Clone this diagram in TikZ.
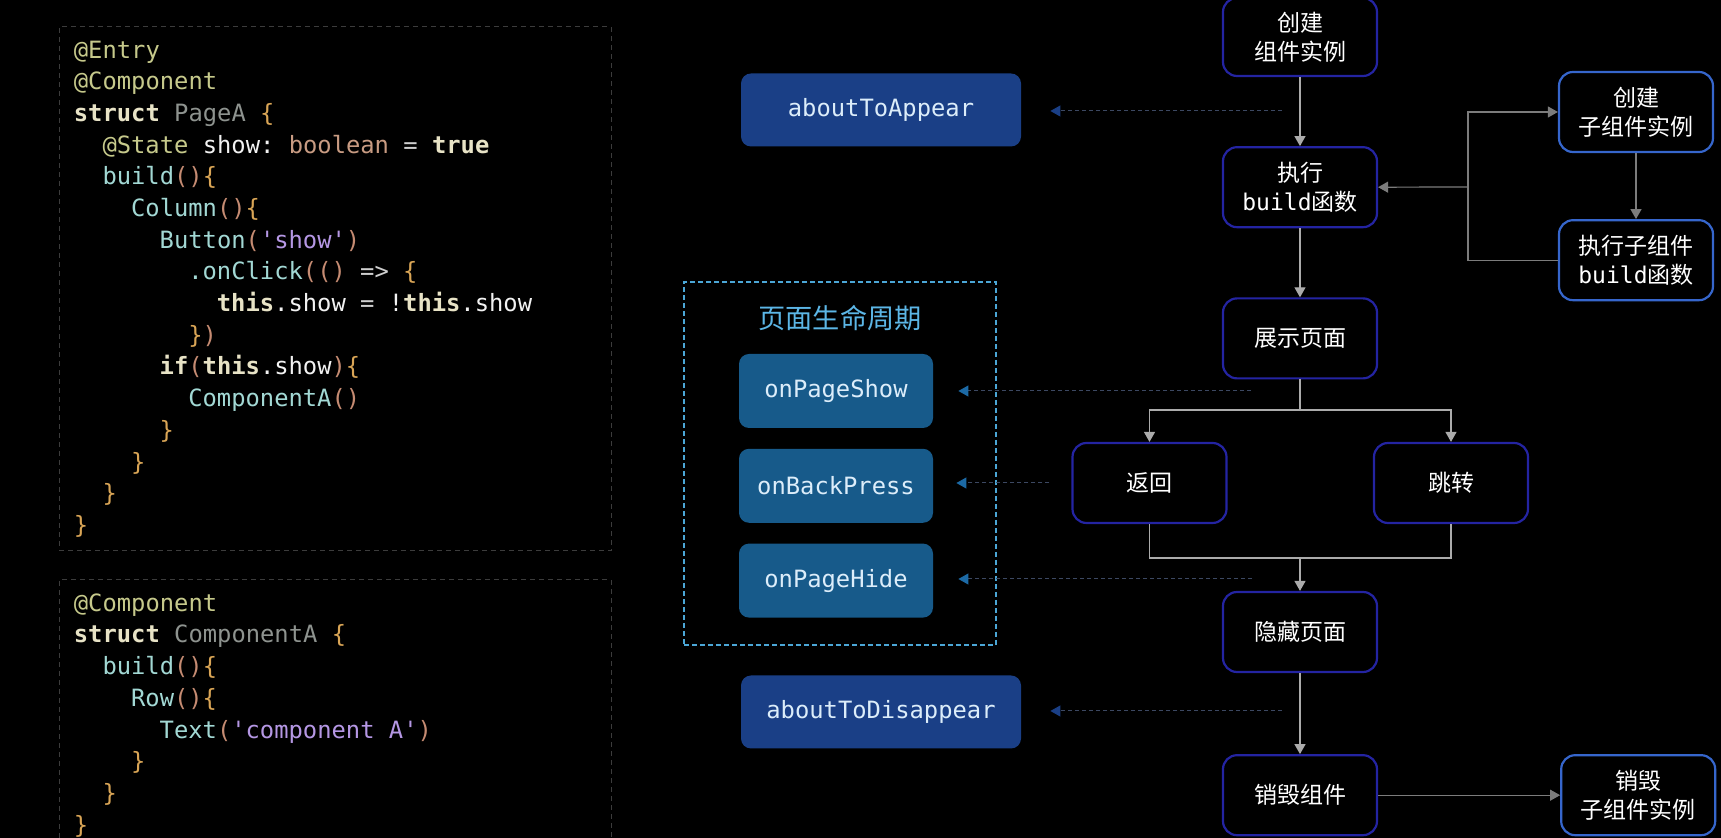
\documentclass[tikz,border=0pt]{standalone}
\usepackage{fontspec}
\setmonofont{DejaVu Sans Mono}
\newfontfamily\cjk{Noto Sans CJK SC}
\usepackage{xcolor}
\usetikzlibrary{arrows.meta, positioning}
\definecolor{decocol}{HTML}{C6C98B}
\definecolor{kwcol}{HTML}{E8E3C6}
\definecolor{clscol}{HTML}{8E938F}
\definecolor{fncol}{HTML}{A2D8D4}
\definecolor{prncol}{HTML}{C58B72}
\definecolor{brccol}{HTML}{D9A556}
\definecolor{strcol}{HTML}{B597E4}
\definecolor{typcol}{HTML}{C89B82}
\definecolor{idncol}{HTML}{F2F2F2}
\definecolor{oprcol}{HTML}{CFCFCF}
\definecolor{codeedge}{HTML}{3C3C3C}
\definecolor{flowedge}{HTML}{2424A2}
\definecolor{subedge}{HTML}{3666CC}
\definecolor{arrowgray}{HTML}{ABABAB}
\definecolor{subgray}{HTML}{7C7C7C}
\definecolor{hookline}{HTML}{3C4862}
\definecolor{appearblue}{HTML}{1A3F86}
\definecolor{pageblue}{HTML}{175A8A}
\definecolor{tipblue}{HTML}{1C6AA6}
\definecolor{hooktext}{HTML}{DCEDFA}
\definecolor{frameblue}{HTML}{4BA6D6}
\definecolor{titleblue}{HTML}{5CB6E6}
\newcommand{\deco}[1]{\textcolor{decocol}{#1}}
\newcommand{\kw}[1]{\textcolor{kwcol}{\bfseries #1}}
\newcommand{\cls}[1]{\textcolor{clscol}{#1}}
\newcommand{\fn}[1]{\textcolor{fncol}{#1}}
\newcommand{\prn}[1]{\textcolor{prncol}{#1}}
\newcommand{\brc}[1]{\textcolor{brccol}{#1}}
\newcommand{\strg}[1]{\textcolor{strcol}{#1}}
\newcommand{\typ}[1]{\textcolor{typcol}{#1}}
\newcommand{\idn}[1]{\textcolor{idncol}{#1}}
\newcommand{\opr}[1]{\textcolor{oprcol}{#1}}

\begin{document}
\begin{tikzpicture}[
  x=0.5pt, y=-0.5pt,
  code/.style={anchor=west, inner sep=0pt, text height=1.6ex, text depth=.4ex,
               yshift=-1.75pt, font=\ttfamily\fontsize{11.9}{15.85}\selectfont},
  codeframe/.style={draw=codeedge, dashed, dash pattern=on 2.5pt off 2pt,
                    line width=0.5pt, minimum width=276pt},
  flowbox/.style={rectangle, rounded corners=7pt, draw=flowedge, line width=1.1pt,
                  fill=black, text=white, align=center, minimum width=77pt,
                  minimum height=40pt, font=\cjk\fontsize{11.5}{14.5}\selectfont},
  subbox/.style={flowbox, draw=subedge},
  hookbox/.style={rectangle, rounded corners=5pt, fill=appearblue, text=hooktext,
                  minimum width=140pt, minimum height=36.5pt,
                  font=\ttfamily\fontsize{11.9}{14}\selectfont},
  pagebox/.style={hookbox, fill=pageblue, minimum width=97pt, minimum height=37pt},
  pageframe/.style={draw=frameblue, dashed, dash pattern=on 2.5pt off 1.5pt,
                    line width=0.6pt, minimum width=156pt, minimum height=181.5pt},
  flow/.style={-{Triangle[length=5pt, width=5.5pt]}, draw=arrowgray, line width=0.6pt},
  line/.style={draw=arrowgray, line width=0.6pt},
  subflow/.style={-{Triangle[length=5pt, width=5.5pt]}, draw=subgray, line width=0.6pt},
  hook/.style={-{Triangle[length=5pt, width=5.5pt, color=tipblue]}, draw=hookline,
               dashed, dash pattern=on 2pt off 1.5pt, line width=0.5pt},
  appearhook/.style={hook, -{Triangle[length=5pt, width=5.5pt, color=appearblue]}},
]
\fill[black] (0,0) rectangle (1721,838);
\useasboundingbox (0,0) rectangle (1721,838);

% code of the page
\node[codeframe, minimum height=262pt] (codeA) at (335,289) {};
\node[code] (a1)  at (73.5,49.4)  {\deco{@Entry}};
\node[code] (a2)  at (73.5,81.1)  {\deco{@Component}};
\node[code] (a3)  at (73.5,112.8) {\kw{struct} \cls{PageA} \brc{\{}};
\node[code] (a4)  at (102.1,144.5) {\deco{@State} \idn{show:} \typ{boolean} \opr{=} \kw{true}};
\node[code] (a5)  at (102.1,176.2) {\fn{build}\prn{()}\brc{\{}};
\node[code] (a6)  at (130.7,207.9) {\fn{Column}\prn{()}\brc{\{}};
\node[code] (a7)  at (159.3,239.5) {\fn{Button}\prn{(}\strg{'show'}\prn{)}};
\node[code] (a8)  at (187.9,271.2) {\fn{.onClick}\prn{(()} \opr{=>} \brc{\{}};
\node[code] (a9)  at (216.5,302.9) {\kw{this}\idn{.show} \opr{=} \idn{!}\kw{this}\idn{.show}};
\node[code] (a10) at (187.9,334.6) {\brc{\}}\prn{)}};
\node[code] (a11) at (159.3,366.3) {\kw{if}\prn{(}\kw{this}\idn{.show}\prn{)}\brc{\{}};
\node[code] (a12) at (187.9,398.0) {\fn{ComponentA}\prn{()}};
\node[code] (a13) at (159.3,429.7) {\brc{\}}};
\node[code] (a14) at (130.7,461.4) {\brc{\}}};
\node[code] (a15) at (102.1,493.1) {\brc{\}}};
\node[code] (a16) at (73.5,524.8)  {\brc{\}}};

% code of the child component
\node[codeframe, minimum height=145pt] (codeB) at (335,725) {};
\node[code] (b1) at (73.5,602.6)  {\deco{@Component}};
\node[code] (b2) at (73.5,634.3)  {\kw{struct} \cls{ComponentA} \brc{\{}};
\node[code] (b3) at (102.1,666.0) {\fn{build}\prn{()}\brc{\{}};
\node[code] (b4) at (130.7,697.7) {\fn{Row}\prn{()}\brc{\{}};
\node[code] (b5) at (159.3,729.4) {\fn{Text}\prn{(}\strg{'component A'}\prn{)}};
\node[code] (b6) at (130.7,761.1) {\brc{\}}};
\node[code] (b7) at (102.1,792.8) {\brc{\}}};
\node[code] (b8) at (73.5,824.5)  {\brc{\}}};

% main flow
\node[flowbox, minimum height=39pt] (create) at (1300,37) {创建\\组件实例};
\node[flowbox, below=34.5pt of create] (build) {执行\\{\ttfamily build}函数};
\node[flowbox, below=34.5pt of build] (show) {展示页面};
\node[flowbox] (back) at (1149.5,483) {返回};
\node[flowbox] (jump) at (1451,483) {跳转};
\node[flowbox] (hide) at (1300,632) {隐藏页面};
\node[flowbox, below=40.5pt of hide] (destroy) {销毁组件};

\node[subbox] (subcreate) at (1636,112) {创建\\子组件实例};
\node[subbox, below=33pt of subcreate] (subbuild) {执行子组件\\{\ttfamily build}函数};
\node[subbox, right=91pt of destroy] (subdestroy) {销毁\\子组件实例};

% lifecycle hooks
\node[hookbox] (appear) at (881,110) {aboutToAppear};
\node[hookbox] (disappear) at (881,712) {aboutToDisappear};
\node[pageframe] (cycle) at (840,463.5) {};
\node[text=titleblue, font=\cjk\fontsize{13.6}{16}\selectfont] (cycletitle) at (840,318) {页面生命周期};
\node[pagebox] (pshow) at (836,391) {onPageShow};
\node[pagebox, below=10pt of pshow] (pback) {onBackPress};
\node[pagebox, below=10pt of pback] (phide) {onPageHide};

\draw[flow] (create) -- (build);
\draw[flow] (build) -- (show);
\coordinate (split) at (1300,410);
\coordinate (merge) at (1300,558);
\draw[line] (show.south) -- (split);
\draw[flow] (split) -| (back.north);
\draw[flow] (split) -| (jump.north);
\draw[line] (back.south) |- (merge) -| (jump.south);
\draw[flow] (merge) -- (hide.north);
\draw[flow] (hide) -- (destroy);

\coordinate (bus) at (1468,187);
\draw[subflow] (subcreate) -- (subbuild);
\draw[subflow] (subbuild.west) -| (bus) |- (subcreate.west);
\draw[subflow] (bus) -- (build.east);
\draw[subflow] (destroy) -- (subdestroy);

\coordinate (appearsrc) at (1282,111);
\coordinate (showsrc) at (1251,391);
\coordinate (hidesrc) at (1252,579);
\coordinate (disappearsrc) at (1282,711);
\draw[appearhook, shorten >=14.5pt] (appearsrc) -- (appearsrc -| appear.east);
\draw[hook, shorten >=12.5pt] (showsrc) -- (showsrc -| pshow.east);
\draw[hook, shorten <=11pt, shorten >=11.5pt] (back.west) -- (back.west -| pback.east);
\draw[hook, shorten >=12.5pt] (hidesrc) -- (hidesrc -| phide.east);
\draw[appearhook, shorten >=14.5pt] (disappearsrc) -- (disappearsrc -| disappear.east);
\end{tikzpicture}
\end{document}
